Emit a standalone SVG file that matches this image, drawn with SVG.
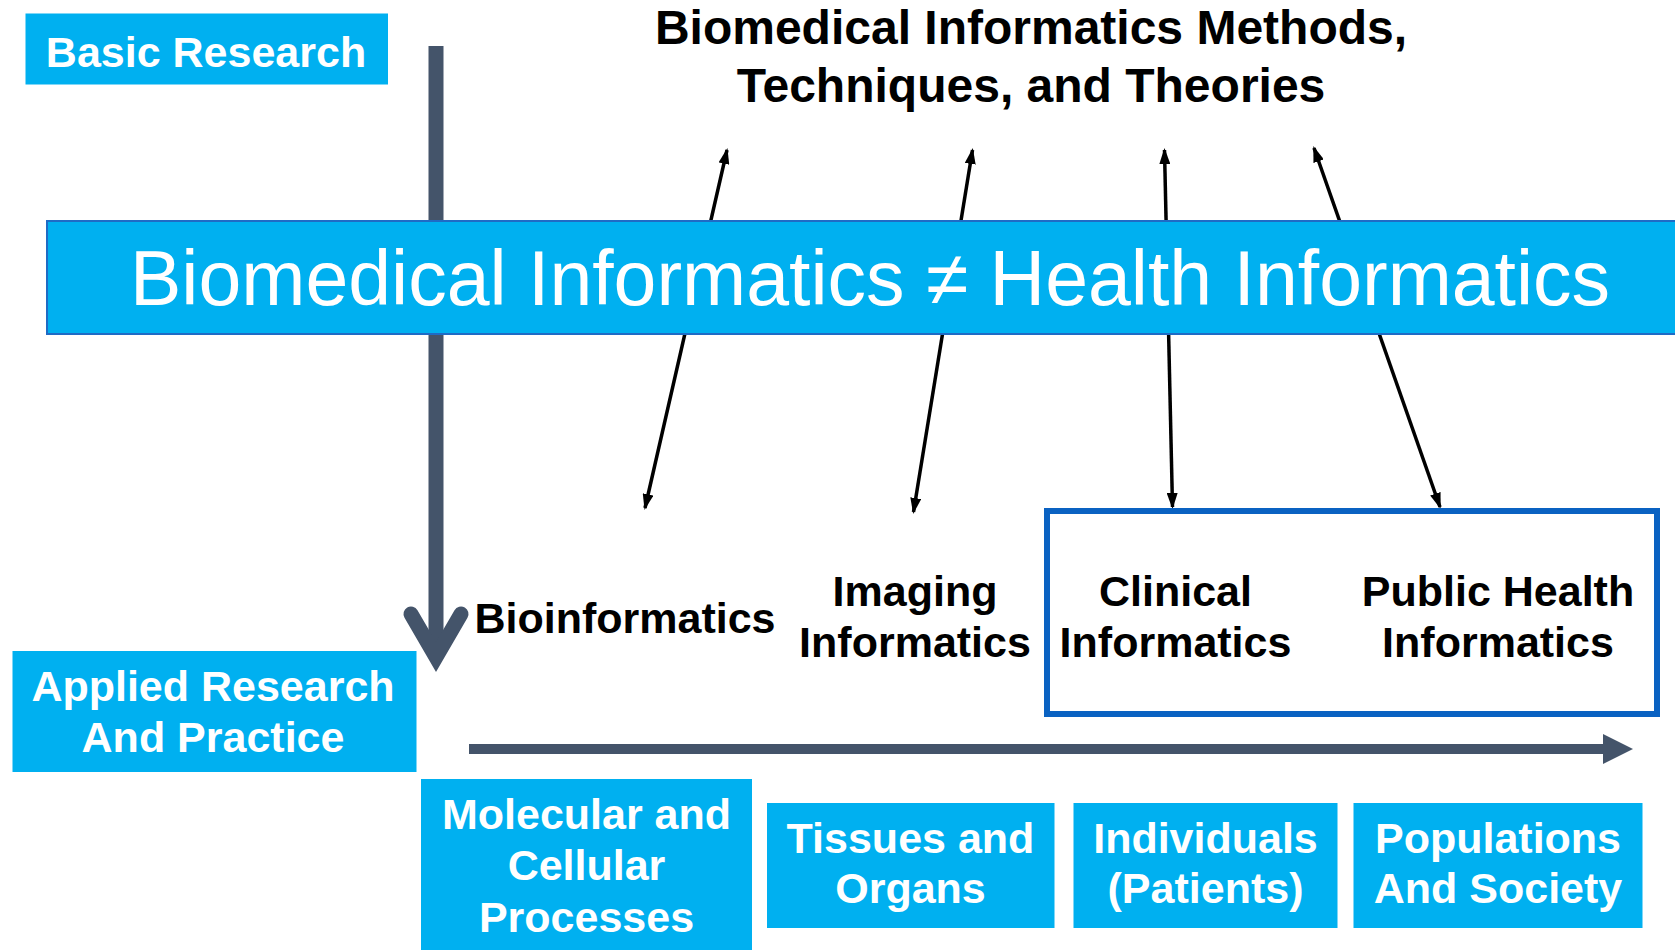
<svg xmlns="http://www.w3.org/2000/svg" width="1675" height="950" viewBox="0 0 1675 950">
<defs>
<style>
.box{fill:#00B0F0;}
.wt{fill:#FFFFFF;font-family:"Liberation Sans",Arial,sans-serif;font-weight:bold;font-size:43px;text-anchor:middle;}
.bt{fill:#000000;font-family:"Liberation Sans",Arial,sans-serif;font-weight:bold;font-size:43px;text-anchor:middle;}
.thin{stroke:#000000;stroke-width:3.5;fill:none;marker-start:url(#ah);marker-end:url(#ah);}
.dark{stroke:#44546A;fill:none;}
</style>
<marker id="ah" viewBox="0 0 16 11" refX="14" refY="5.5" markerWidth="16" markerHeight="11" orient="auto-start-reverse" markerUnits="userSpaceOnUse">
<path d="M0,0 L16,5.5 L0,11 z" fill="#000000"/>
</marker>
</defs>

<g id="connectors">
<path class="dark" d="M436,46 L436,657" stroke-width="15"/>
<path class="dark" d="M411,614 L436,657 L461,614" stroke-width="15" stroke-linecap="round" stroke-linejoin="miter" stroke-miterlimit="10"/>
<path class="dark" d="M469,749 L1604,749" stroke-width="10"/>
<path d="M1603,734 L1633,749 L1603,764 z" fill="#44546A"/>
<line class="thin" x1="645" y1="508" x2="727" y2="150"/>
<line class="thin" x1="913.5" y1="512" x2="972.5" y2="150"/>
<line class="thin" x1="1172.5" y1="507" x2="1164.5" y2="150"/>
<line class="thin" x1="1440" y1="507" x2="1314" y2="148"/>
</g>

<g id="basic-research">
<rect class="box" x="25.5" y="13.5" width="362.5" height="71"/>
<text class="wt" x="206" y="67">Basic Research</text>
</g>

<g id="title">
<text class="bt" x="1031" y="44" style="font-size:48px">Biomedical Informatics Methods,</text>
<text class="bt" x="1031" y="102" style="font-size:48px">Techniques, and Theories</text>
</g>

<g id="banner">
<rect x="47" y="221" width="1640" height="113" fill="#00B0F0" stroke="#1F6BC5" stroke-width="2"/>
<text x="130" y="305" fill="#FFFFFF" font-family="Liberation Sans, Arial, sans-serif" font-size="77">Biomedical Informatics ≠ Health Informatics</text>
</g>

<g id="highlight-box">
<rect x="1047" y="511" width="610" height="203" fill="none" stroke="#0A62C2" stroke-width="6"/>
</g>

<g id="bioinformatics">
<text class="bt" x="625" y="633">Bioinformatics</text>
</g>
<g id="imaging-informatics">
<text class="bt" x="915" y="606">Imaging</text>
<text class="bt" x="915" y="657">Informatics</text>
</g>
<g id="clinical-informatics">
<text class="bt" x="1175.5" y="606">Clinical</text>
<text class="bt" x="1175.5" y="657">Informatics</text>
</g>
<g id="public-health-informatics">
<text class="bt" x="1498" y="606">Public Health</text>
<text class="bt" x="1498" y="657">Informatics</text>
</g>

<g id="applied-research">
<rect class="box" x="12.5" y="651" width="404" height="121"/>
<text class="wt" x="213" y="701">Applied Research</text>
<text class="wt" x="213" y="752">And Practice</text>
</g>

<g id="molecular">
<rect class="box" x="421" y="779" width="331" height="171"/>
<text class="wt" x="586.5" y="829">Molecular and</text>
<text class="wt" x="586.5" y="880">Cellular</text>
<text class="wt" x="586.5" y="932">Processes</text>
</g>
<g id="tissues">
<rect class="box" x="767" y="803" width="287.5" height="125"/>
<text class="wt" x="910.5" y="853">Tissues and</text>
<text class="wt" x="910.5" y="903">Organs</text>
</g>
<g id="individuals">
<rect class="box" x="1073.5" y="803" width="264" height="125"/>
<text class="wt" x="1205.5" y="853">Individuals</text>
<text class="wt" x="1205.5" y="903">(Patients)</text>
</g>
<g id="populations">
<rect class="box" x="1353.5" y="803" width="289" height="125"/>
<text class="wt" x="1498" y="853">Populations</text>
<text class="wt" x="1498" y="903">And Society</text>
</g>
</svg>
